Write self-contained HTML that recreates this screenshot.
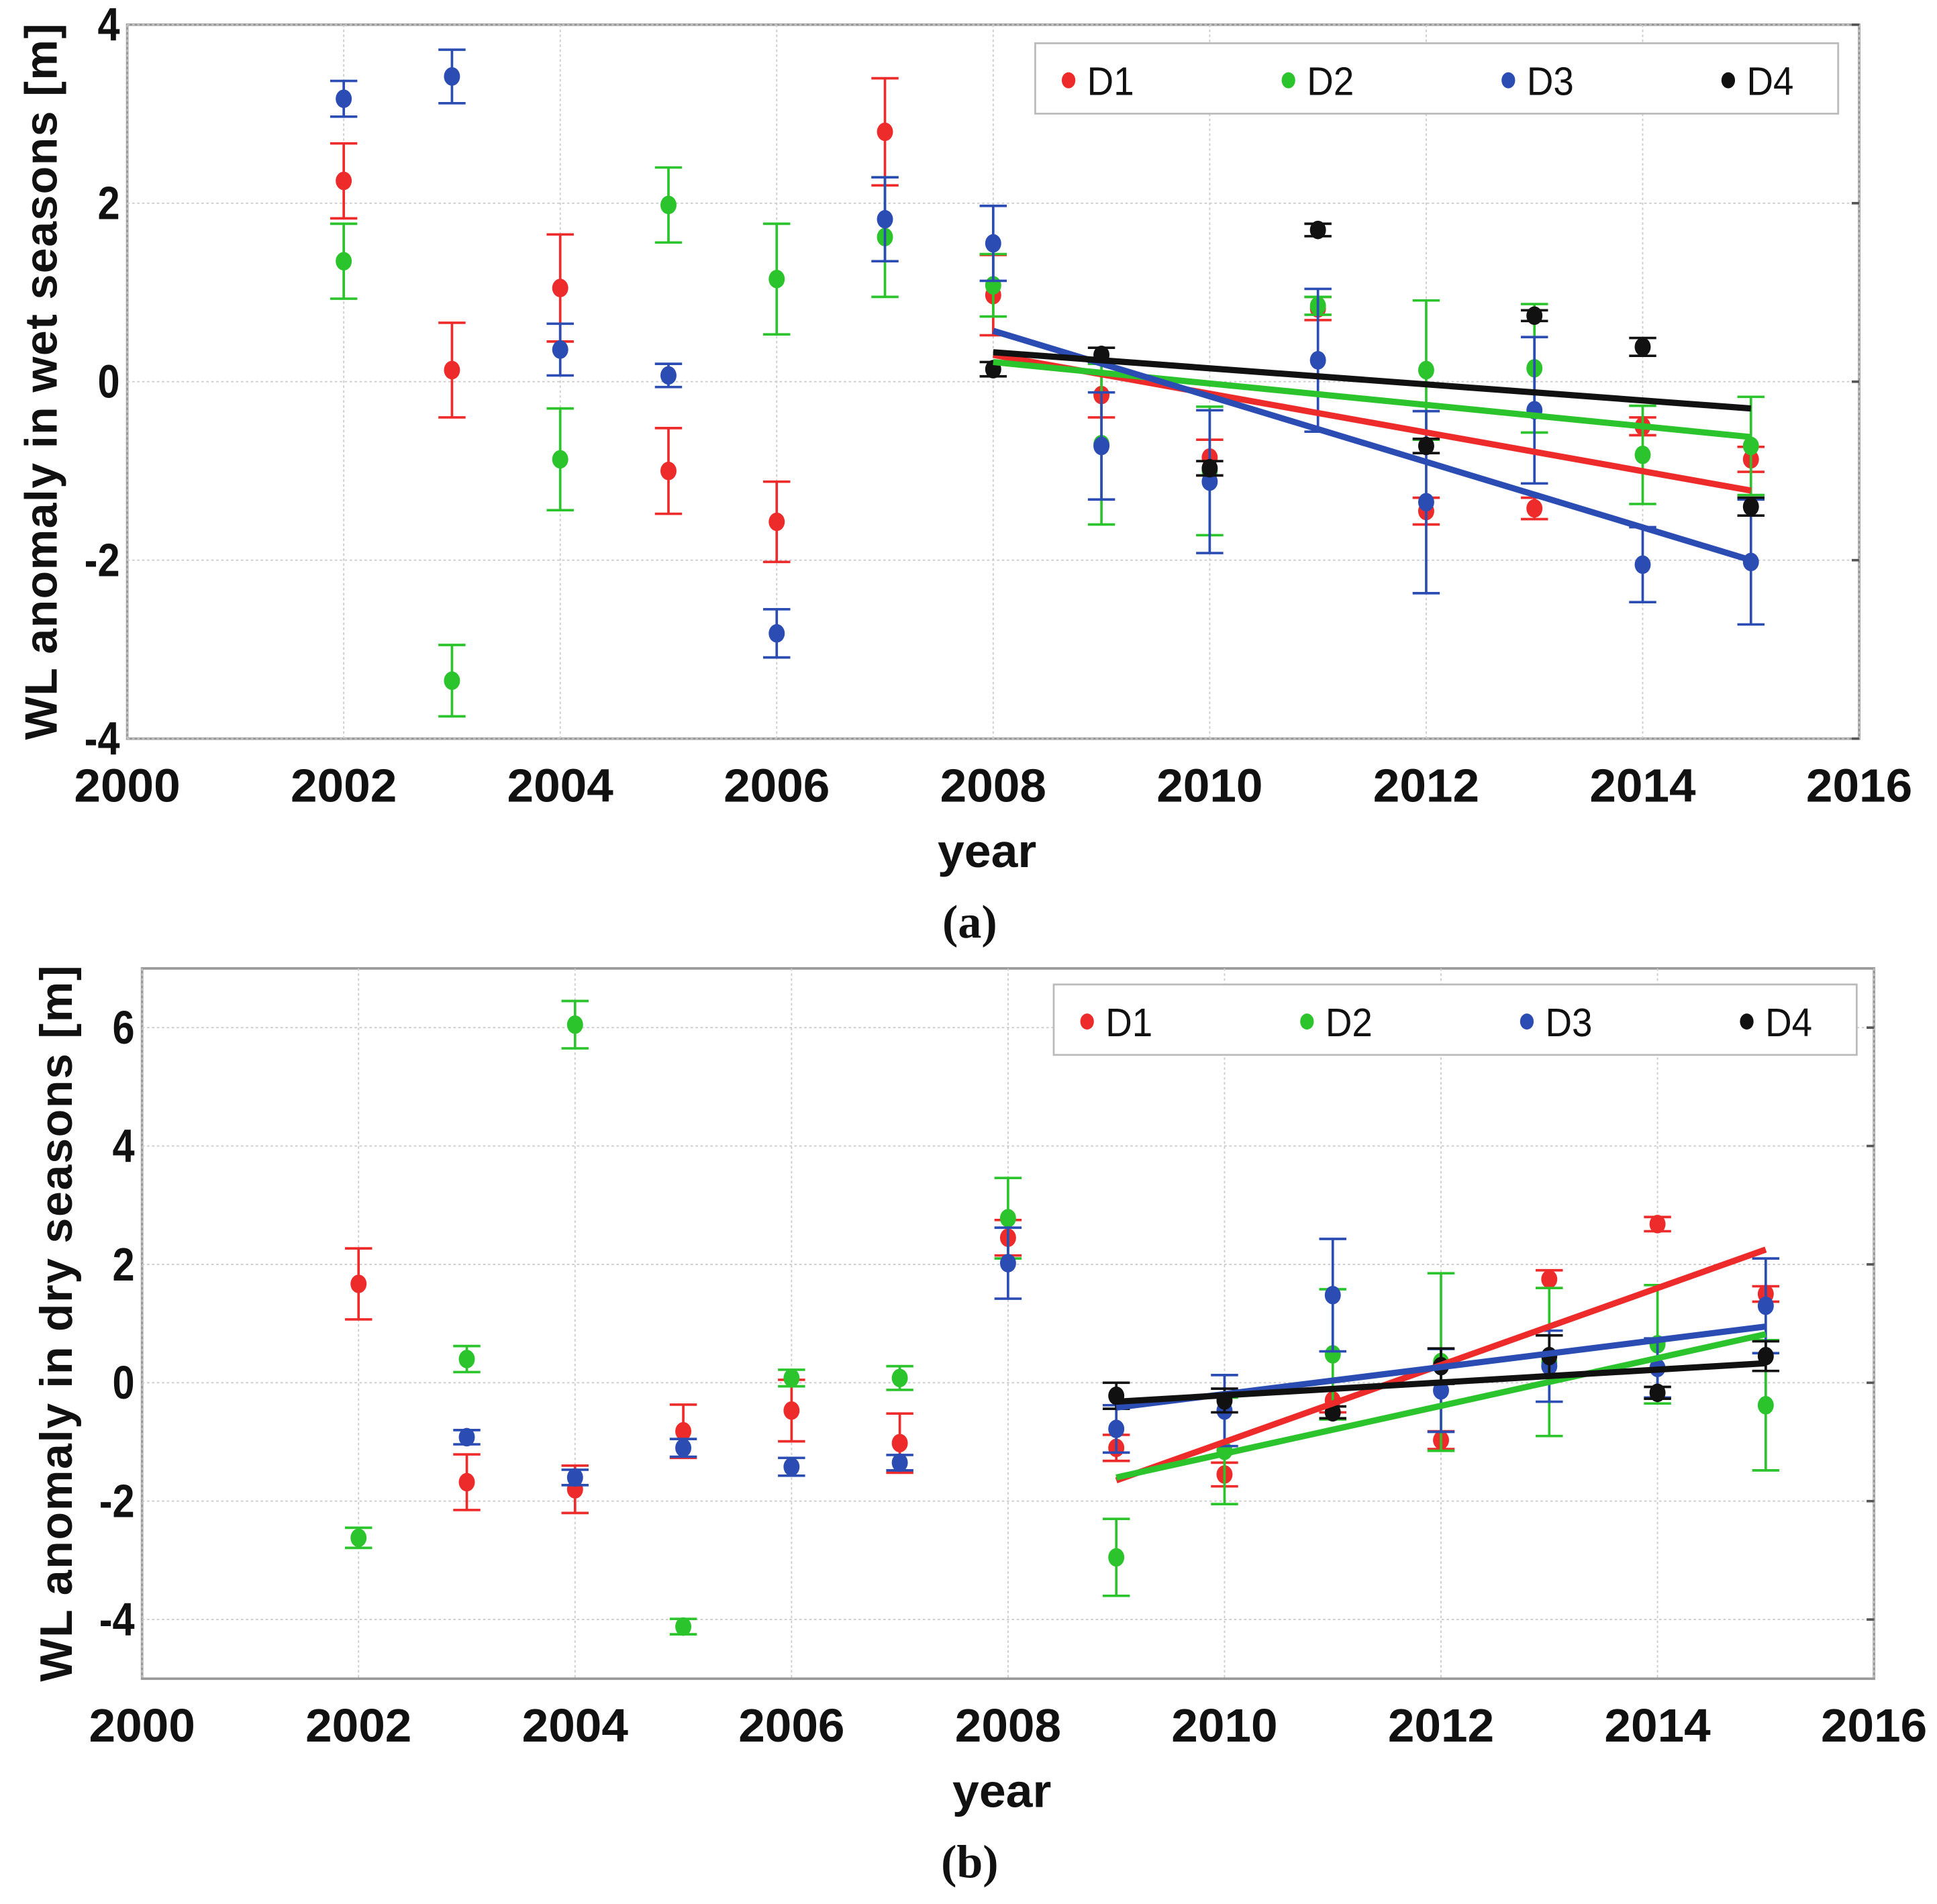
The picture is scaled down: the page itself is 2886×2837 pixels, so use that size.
<!DOCTYPE html>
<html><head><meta charset="utf-8"><style>
html,body{margin:0;padding:0;background:#fff}
svg{display:block}
</style></head><body>
<svg id="chart" width="2886" height="2837" viewBox="0 0 1568 1541.4" preserveAspectRatio="none" xmlns="http://www.w3.org/2000/svg" font-family="Liberation Sans, sans-serif"></svg>
<script>
const years = [2002,2003,2004,2005,2006,2007,2008,2009,2010,2011,2012,2013,2014,2015];
const seriesNames = ["D1","D2","D3","D4"];
const seriesColors = ["#ee2b2b","#2cc42c","#2b4db3","#111111"];
const xTicks = [2000,2002,2004,2006,2008,2010,2012,2014,2016];
const yTicksA = [-4,-2,0,2,4];
const yTicksB = [-4,-2,0,2,4,6];
// Panel (a) wet seasons values / errors (null = missing)
const wetD1 = [2.25,0.13,1.05,-1.0,-1.57,2.8,0.97,-0.15,-0.85,0.82,-1.45,-1.42,-0.5,-0.87];
const wetD1err = [0.42,0.53,0.6,0.48,0.45,0.6,0.45,0.25,0.2,0.13,0.15,0.12,0.1,0.14];
const wetD2 = [1.35,-3.35,-0.87,1.98,1.15,1.62,1.08,-0.7,-1.0,0.85,0.13,0.15,-0.82,-0.72];
const wetD2err = [0.42,0.4,0.57,0.42,0.62,0.67,0.35,0.9,0.72,0.1,0.78,0.72,0.55,0.55];
const wetD3 = [3.17,3.42,0.36,0.07,-2.82,1.82,1.55,-0.72,-1.12,0.24,-1.35,-0.32,-2.05,-2.02];
const wetD3err = [0.2,0.3,0.29,0.13,0.27,0.47,0.42,0.6,0.8,0.8,1.02,0.82,0.42,0.7];
const wetD4 = [null,null,null,null,null,null,0.14,0.3,-0.97,1.7,-0.72,0.74,0.39,-1.4];
const wetD4err = [null,null,null,null,null,null,0.08,0.08,0.08,0.07,0.08,0.06,0.1,0.1];
const wetTrendYears = [2008,2015];
const wetTrendD1 = [0.3,-1.22];
const wetTrendD2 = [0.22,-0.62];
const wetTrendD3 = [0.57,-2.0];
const wetTrendD4 = [0.33,-0.3];
// Panel (b) dry seasons
const dryD1 = [1.67,-1.68,-1.8,-0.82,-0.47,-1.02,2.45,-1.1,-1.55,-0.3,-0.97,1.75,2.68,1.5];
const dryD1err = [0.6,0.47,0.4,0.45,0.52,0.5,0.3,0.22,0.2,0.2,0.15,0.15,0.12,0.13];
const dryD2 = [-2.62,0.4,6.05,-4.12,0.08,0.08,2.78,-2.95,-1.15,0.48,0.35,0.35,0.65,-0.38];
const dryD2err = [0.17,0.22,0.4,0.13,0.14,0.2,0.68,0.65,0.9,1.1,1.5,1.25,1.0,1.1];
const dryD3 = [null,-0.92,-1.6,-1.1,-1.42,-1.35,2.02,-0.78,-0.47,1.48,-0.13,0.28,0.25,1.3];
const dryD3err = [null,0.12,0.13,0.15,0.15,0.13,0.6,0.4,0.6,0.95,0.7,0.6,0.5,0.8];
const dryD4 = [null,null,null,null,null,null,null,-0.22,-0.3,-0.5,0.28,0.45,-0.17,0.45];
const dryD4err = [null,null,null,null,null,null,null,0.22,0.2,0.1,0.3,0.35,0.1,0.25];
const dryTrendYears = [2009,2015];
const dryTrendD1 = [-1.65,2.25];
const dryTrendD2 = [-1.6,0.82];
const dryTrendD3 = [-0.42,0.95];
const dryTrendD4 = [-0.32,0.33];

const NS="http://www.w3.org/2000/svg";
const svg=document.getElementById('chart');
function mk(tag,attrs,parent){const e=document.createElementNS(NS,tag);for(const k in attrs)e.setAttribute(k,attrs[k]);(parent||svg).appendChild(e);return e;}

function panel(cfg){
  const g=mk('g',{});
  
  
  const xs=v=>cfg.x0+(v-2000)/16*(cfg.x1-cfg.x0);
  const ys=v=>cfg.y1-(v-cfg.ymin)/(cfg.ymax-cfg.ymin)*(cfg.y1-cfg.y0);
  const bg=mk('rect',{x:cfg.x0,y:cfg.y0,width:cfg.x1-cfg.x0,height:cfg.y1-cfg.y0,fill:'#fff',stroke:'#999','stroke-width':2},g);
  
  
  xTicks.forEach(t=>{
    const gl=mk('line',{x1:xs(t),x2:xs(t),y1:cfg.y0,y2:cfg.y1,stroke:'#ccc','stroke-width':1,'stroke-dasharray':'2,2'},g);
    
    
    const tl=mk('text',{x:xs(t),y:cfg.y1+51,'text-anchor':'middle','font-size':38,'font-weight':'bold',fill:'#111',textLength:86,lengthAdjust:'spacingAndGlyphs'},g);
    tl.textContent=t;
    
    
  });
  cfg.yTicks.forEach(t=>{
    const gl=mk('line',{x1:cfg.x0,x2:cfg.x1,y1:ys(t),y2:ys(t),stroke:'#ccc','stroke-width':1,'stroke-dasharray':'2,2'},g);
    
    
    mk('line',{x1:cfg.x1-6,x2:cfg.x1,y1:ys(t),y2:ys(t),stroke:'#555','stroke-width':2},g);
    const tl=mk('text',{x:cfg.x0-6,y:ys(t)+13,'text-anchor':'end','font-size':38,'font-weight':'bold',fill:'#111',transform:`translate(${(cfg.x0-6)*0.15},0) scale(0.85,1)`},g);
    tl.textContent=t;
    
    
  });
  const yt=mk('text',{x:0,y:0,transform:`translate(${cfg.ytx},${(cfg.y0+cfg.y1)/2}) rotate(-90)`,'text-anchor':'middle','font-size':37,'font-weight':'bold',fill:'#111',textLength:cfg.ytlen,lengthAdjust:'spacing'},g);
  yt.textContent=cfg.ytitle;
  
  
  const xt=mk('text',{x:(cfg.x0+cfg.x1)/2-5,y:cfg.y1+104,'text-anchor':'middle','font-size':38,'font-weight':'bold',fill:'#111',textLength:80,lengthAdjust:'spacingAndGlyphs'},g);
  xt.textContent='year';
  
  
  const pl=mk('text',{x:785,y:cfg.y1+161,'text-anchor':'middle','font-size':38,'font-weight':'bold',fill:'#111',style:'font-family:"Liberation Serif",serif'},g);
  pl.textContent=cfg.label;
  
  
  cfg.series.forEach((s,si)=>{
    const c=seriesColors[si];
    s.vals.forEach((v,i)=>{
      if(v===null)return;
      const x=xs(years[i]),e=s.errs[i];
      const eb=mk('g',{stroke:c,'stroke-width':2},g);
      
      
      mk('line',{x1:x,x2:x,y1:ys(v+e),y2:ys(v-e)},eb);
      mk('line',{x1:x-11,x2:x+11,y1:ys(v+e),y2:ys(v+e)},eb);
      mk('line',{x1:x-11,x2:x+11,y1:ys(v-e),y2:ys(v-e)},eb);
      const p=mk('ellipse',{cx:x,cy:ys(v),rx:6.5,ry:7.5,fill:c},g);
      
      
    });
  });
  cfg.trends.forEach((t,si)=>{
    const l=mk('line',{x1:xs(cfg.trendYears[0]),x2:xs(cfg.trendYears[1]),y1:ys(t[0]),y2:ys(t[1]),stroke:seriesColors[si],'stroke-width':5},g);
    
    
  });
  const lg=mk('g',{},g);
  
  
  mk('rect',{x:cfg.lx,y:cfg.ly,width:650,height:57,fill:'#fff',stroke:'#bbb','stroke-width':1.5},lg);
  seriesNames.forEach((n,i)=>{
    const en=mk('g',{},lg);
    
    
    mk('ellipse',{cx:cfg.lx+27+i*178,cy:cfg.ly+30,rx:5.5,ry:6.5,fill:seriesColors[i]},en);
    const t=mk('text',{x:cfg.lx+42+i*178,y:cfg.ly+42,'font-size':32,fill:'#111',textLength:38,lengthAdjust:'spacingAndGlyphs'},en);
    t.textContent=n;
  });
}
panel({name:'panel-a-wet',x0:103,x1:1505,y0:20,y1:598,ymin:-4,ymax:4,yTicks:yTicksA,ytx:46,ytlen:580,
  ytitle:'WL anomaly in wet seasons [m]',label:'(a)',lx:838,ly:35,
  series:[{vals:wetD1,errs:wetD1err},{vals:wetD2,errs:wetD2err},{vals:wetD3,errs:wetD3err},{vals:wetD4,errs:wetD4err}],
  trendYears:wetTrendYears,trends:[wetTrendD1,wetTrendD2,wetTrendD3,wetTrendD4]});
panel({name:'panel-b-dry',x0:115,x1:1517,y0:784,y1:1359,ymin:-5,ymax:7,yTicks:yTicksB,ytx:58,ytlen:580,
  ytitle:'WL anomaly in dry seasons [m]',label:'(b)',lx:853,ly:797,
  series:[{vals:dryD1,errs:dryD1err},{vals:dryD2,errs:dryD2err},{vals:dryD3,errs:dryD3err},{vals:dryD4,errs:dryD4err}],
  trendYears:dryTrendYears,trends:[dryTrendD1,dryTrendD2,dryTrendD3,dryTrendD4]});
</script>
</body></html>
